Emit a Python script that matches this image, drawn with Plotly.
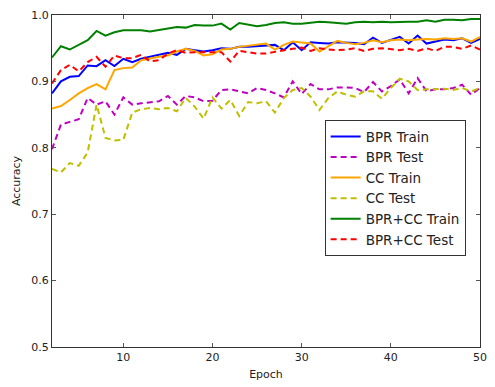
import plotly.graph_objects as go

epochs = list(range(2, 51))

bpr_train = [0.882, 0.900, 0.907, 0.908, 0.924, 0.923, 0.932, 0.923, 0.934, 0.929,
             0.934, 0.937, 0.940, 0.943, 0.940, 0.949, 0.947, 0.945, 0.947, 0.950,
             0.949, 0.952, 0.952, 0.953, 0.953, 0.955, 0.947, 0.959, 0.947, 0.959,
             0.958, 0.957, 0.959, 0.959, 0.958, 0.956, 0.966, 0.958, 0.962, 0.967,
             0.957, 0.969, 0.957, 0.960, 0.963, 0.962, 0.965, 0.958, 0.964]

bpr_test = [0.798, 0.835, 0.839, 0.843, 0.875, 0.865, 0.870, 0.850, 0.876, 0.865,
            0.867, 0.868, 0.870, 0.878, 0.865, 0.878, 0.876, 0.870, 0.871, 0.887,
            0.888, 0.885, 0.882, 0.890, 0.887, 0.882, 0.876, 0.900, 0.881, 0.896,
            0.888, 0.888, 0.891, 0.891, 0.890, 0.884, 0.899, 0.885, 0.893, 0.903,
            0.882, 0.905, 0.885, 0.888, 0.888, 0.890, 0.895, 0.880, 0.890]

cc_train = [0.859, 0.863, 0.872, 0.882, 0.890, 0.896, 0.888, 0.917, 0.920, 0.921,
            0.932, 0.935, 0.937, 0.939, 0.945, 0.949, 0.946, 0.939, 0.941, 0.948,
            0.949, 0.952, 0.954, 0.955, 0.957, 0.948, 0.955, 0.960, 0.958, 0.957,
            0.945, 0.953, 0.961, 0.958, 0.956, 0.958, 0.962, 0.959, 0.962, 0.963,
            0.962, 0.963, 0.964, 0.963, 0.965, 0.964, 0.965, 0.960, 0.967]

cc_test = [0.768, 0.763, 0.777, 0.773, 0.793, 0.865, 0.815, 0.811, 0.812, 0.853,
           0.858, 0.860, 0.858, 0.860, 0.855, 0.875, 0.862, 0.844, 0.876, 0.859,
           0.872, 0.848, 0.869, 0.867, 0.870, 0.853, 0.875, 0.887, 0.890, 0.877,
           0.857, 0.875, 0.885, 0.880, 0.877, 0.885, 0.885, 0.874, 0.890, 0.904,
           0.900, 0.887, 0.888, 0.888, 0.889, 0.887, 0.890, 0.885, 0.890]

both_train = [0.936, 0.953, 0.948, 0.955, 0.962, 0.976, 0.969, 0.974, 0.977, 0.977,
              0.977, 0.975, 0.977, 0.979, 0.982, 0.981, 0.985, 0.984, 0.984, 0.987,
              0.978, 0.988, 0.986, 0.983, 0.985, 0.988, 0.989, 0.987, 0.987, 0.989,
              0.990, 0.989, 0.988, 0.987, 0.989, 0.990, 0.989, 0.990, 0.989, 0.990,
              0.990, 0.990, 0.992, 0.990, 0.993, 0.993, 0.992, 0.994, 0.994]

both_test = [0.897, 0.917, 0.925, 0.915, 0.929, 0.937, 0.922, 0.939, 0.935, 0.935,
             0.940, 0.930, 0.932, 0.942, 0.947, 0.943, 0.944, 0.944, 0.945, 0.944,
             0.930, 0.946, 0.944, 0.942, 0.942, 0.945, 0.947, 0.949, 0.951, 0.946,
             0.950, 0.948, 0.947, 0.948, 0.950, 0.946, 0.949, 0.950, 0.948, 0.947,
             0.949, 0.946, 0.950, 0.946, 0.952, 0.952, 0.949, 0.954, 0.948]

x_ticks = [10, 20, 30, 40, 50]
y_ticks = [0.5, 0.6, 0.7, 0.8, 0.9, 1.0]
y_tick_labels = ["0.5", "0.6", "0.7", "0.8", "0.9", "1.0"]

series = [
    ("BPR Train", bpr_train, "#0000ff", "solid"),
    ("BPR Test", bpr_test, "#bf00bf", "6px,4px"),
    ("CC Train", cc_train, "#ffa500", "solid"),
    ("CC Test", cc_test, "#bfbf00", "6px,4px"),
    ("BPR+CC Train", both_train, "#008000", "solid"),
    ("BPR+CC Test", both_test, "#ff0000", "6px,4px"),
]

fig = go.Figure()
for name, vals, color, dash in series:
    fig.add_trace(go.Scatter(x=epochs, y=vals, mode="lines", name=name,
                             line=dict(color=color, width=2, dash=dash)))

axis_common = dict(showline=True, linecolor="#333333", linewidth=1, mirror="ticks",
                   ticks="inside", ticklen=4, tickcolor="#555555", showgrid=False,
                   zeroline=False, tickfont=dict(size=11, color="#222222"))

fig.update_layout(
    width=495, height=387,
    margin=dict(l=52, r=8, t=15, b=35),
    paper_bgcolor="white", plot_bgcolor="white",
    font=dict(family="DejaVu Sans", color="#222222"),
    showlegend=True,
    legend=dict(x=0.637, y=0.683, xanchor="left", yanchor="top",
                bgcolor="white", bordercolor="#333333", borderwidth=1,
                font=dict(size=13.5, color="#222222"), tracegroupgap=0),
    xaxis=dict(range=[2, 50], tickvals=x_ticks,
               title=dict(text="Epoch", font=dict(size=11), standoff=7), **axis_common),
    yaxis=dict(range=[0.5, 1.0], tickvals=y_ticks, ticktext=y_tick_labels,
               title=dict(text="Accuracy", font=dict(size=11), standoff=8), **axis_common),
)

fig.write_html("out.html",
               config={"displayModeBar": False},
               post_script="document.body.style.margin='0';document.body.style.padding='0';"
                           "document.body.style.overflow='hidden';")
